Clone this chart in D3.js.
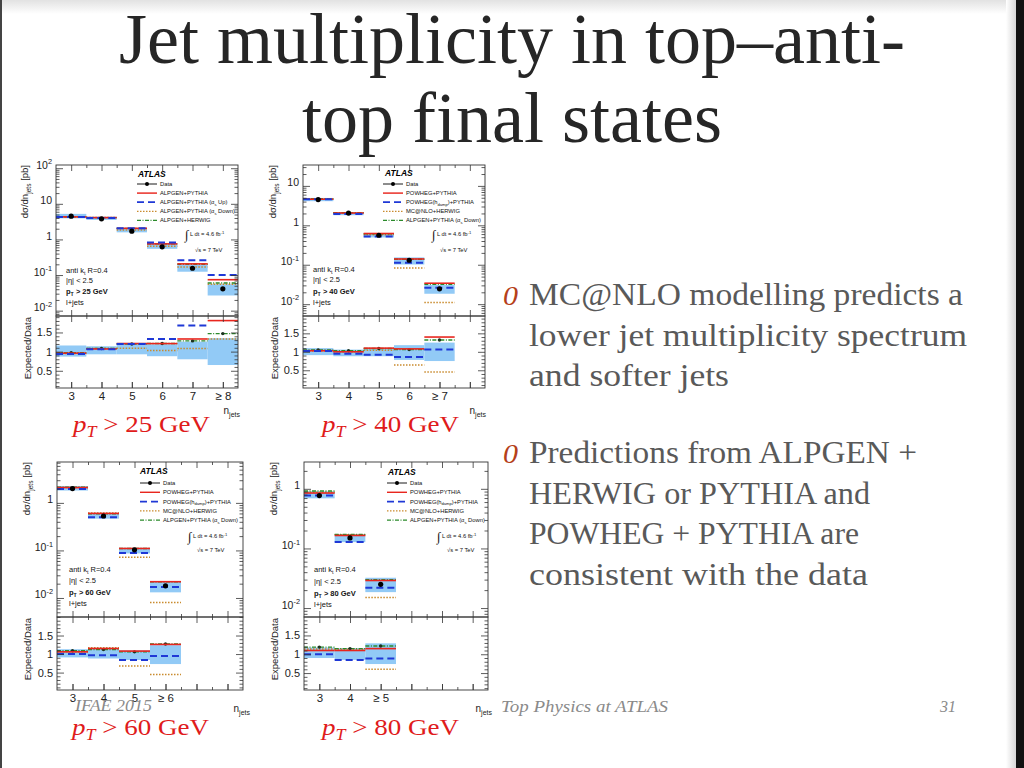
<!DOCTYPE html>
<html><head><meta charset="utf-8">
<script src="https://cdn.jsdelivr.net/npm/d3@7"></script>
<style>body{margin:0;background:#fff}svg{display:block}</style>
</head><body>
<svg id="c" width="1024" height="768"></svg>
<script>
// ---------- DATA ----------
// pT > 25 GeV
const cats25 = ["3","4","5","6","7","\u2265 8"];
const data25 = [4.5, 3.8, 1.7, 0.62, 0.155, 0.041];
const bandLo25 = [0.87, 0.93, 0.93, 0.88, 0.80, 0.65];
const bandHi25 = [1.16, 1.14, 1.23, 1.19, 1.26, 1.35];
const red25 = [4.3, 4.1, 2.05, 0.75, 0.206, 0.074];
const blue25 = [4.25, 4.0, 2.05, 0.82, 0.26, 0.10];
const orange25 = [4.3, 4.1, 1.85, 0.64, 0.168, 0.055];
const green25 = [4.35, 4.1, 2.04, 0.75, 0.20, 0.060];
const rRed25 = [0.96, 1.07, 1.21, 1.21, 1.33, 1.81];
const rBlue25 = [0.94, 1.06, 1.20, 1.33, 1.68, null];
const rOrange25 = [0.95, 1.08, 1.09, 1.03, 1.08, 1.33];
const rGreen25 = [0.97, 1.08, 1.20, 1.21, 1.28, 1.47];
const names25 = ["Data","ALPGEN+PYTHIA","ALPGEN+PYTHIA (\u03b1_{s} Up)","ALPGEN+PYTHIA (\u03b1_{s} Down)","ALPGEN+HERWIG"];

// pT > 40 GeV
const cats40 = ["3","4","5","6","\u2265 7"];
const data40 = [4.5, 2.05, 0.56, 0.13, 0.0245];
const bandLo40 = [0.91, 0.88, 0.88, 0.78, 0.75];
const bandHi40 = [1.10, 1.06, 1.10, 1.18, 1.25];
const red40 = [4.6, 2.05, 0.62, 0.14, 0.034];
const blue40 = [4.6, 1.95, 0.52, 0.112, 0.026];
const orange40 = [4.6, 2.05, 0.58, 0.083, 0.011];
const green40 = [4.7, 2.1, 0.61, 0.138, 0.032];
const rRed40 = [1.03, 1.00, 1.10, 1.08, 1.40];
const rBlue40 = [1.02, 0.95, 0.92, 0.86, 1.06];
const rOrange40 = [1.02, 1.00, 1.04, 0.64, 0.45];
const rGreen40 = [1.05, 1.03, 1.09, 1.06, 1.32];

// pT > 60 GeV
const cats60 = ["3","4","5","\u2265 6"];
const data60 = [2.0, 0.53, 0.103, 0.018];
const bandLo60 = [0.91, 0.88, 0.84, 0.73];
const bandHi60 = [1.13, 1.17, 1.10, 1.24];
const red60 = [2.1, 0.60, 0.11, 0.022];
const blue60 = [1.95, 0.50, 0.088, 0.017];
const orange60 = [2.1, 0.61, 0.072, 0.008];
const green60 = [2.15, 0.59, 0.11, 0.022];
const rRed60 = [1.06, 1.15, 1.08, 1.26];
const rBlue60 = [1.00, 0.97, 0.84, 0.95];
const rOrange60 = [1.06, 1.17, 0.68, 0.45];
const rGreen60 = [1.09, 1.12, 1.06, 1.27];

// pT > 80 GeV
const cats80 = ["3","4","\u2265 5"];
const data80 = [0.77, 0.15, 0.025];
const bandLo80 = [0.90, 0.85, 0.74];
const bandHi80 = [1.18, 1.16, 1.29];
const red80 = [0.85, 0.165, 0.029];
const blue80 = [0.77, 0.128, 0.022];
const orange80 = [0.88, 0.17, 0.015];
const green80 = [0.92, 0.172, 0.030];
const rRed80 = [1.10, 1.10, 1.15];
const rBlue80 = [1.00, 0.85, 0.89];
const rOrange80 = [1.14, 1.13, 0.60];
const rGreen80 = [1.19, 1.15, 1.22];

const namesPow = ["Data","POWHEG+PYTHIA","POWHEG(h_{damp})+PYTHIA","MC@NLO+HERWIG","ALPGEN+PYTHIA (\u03b1_{s} Down)"];
const ptCuts = ["25","40","60","80"];

const titleLines = ["Jet multiplicity in top\u2013anti-", "top final states"];
const bullet1 = ["MC@NLO modelling predicts a", "lower jet multiplicity spectrum", "and softer jets"];
const bullet2 = ["Predictions from ALPGEN +", "HERWIG or PYTHIA and", "POWHEG + PYTHIA are", "consistent with the data"];

// ---------- STYLE ----------
const SANS = "'Liberation Sans', Arial, Helvetica, sans-serif";
const SERIF = "'Liberation Serif', 'Times New Roman', serif";
const BAND = "#92caf6";
const STY = [
  {c:"#e8261e", w:1.6, d:null},
  {c:"#1f38d6", w:2.0, d:"7,4"},
  {c:"#c98b2e", w:1.5, d:"1.5,1.5"},
  {c:"#2b8a2b", w:1.4, d:"4,1.5,1,1.5"}
];

const svg = d3.select("#c");
const defs = svg.append("defs");

function rich(text, str, size) {
  const parts = str.split(/(_\{[^}]*\}|\^\{[^}]*\})/).filter(s => s.length);
  let shift = 0;
  parts.forEach(p => {
    let target = 0, content = p, s = size;
    if (p.startsWith("_{")) { target = 0.3*size; content = p.slice(2,-1); s = size*0.7; }
    else if (p.startsWith("^{")) { target = -0.42*size; content = p.slice(2,-1); s = size*0.7; }
    text.append("tspan").attr("dy", target - shift).attr("font-size", s).text(content);
    shift = target;
  });
  return text;
}

// ---------- SLIDE BACKGROUND ----------
const tg = defs.append("linearGradient").attr("id","tg").attr("x1",0).attr("y1",0).attr("x2",0).attr("y2",1);
tg.append("stop").attr("offset",0).attr("stop-color","#e2e2e2");
tg.append("stop").attr("offset",1).attr("stop-color","#ffffff");
const rg = defs.append("linearGradient").attr("id","rg");
rg.append("stop").attr("offset",0).attr("stop-color","#ffffff");
rg.append("stop").attr("offset",1).attr("stop-color","#d6d6d6");
svg.append("rect").attr("width",1024).attr("height",768).attr("fill","#fff");
svg.append("rect").attr("width",1016).attr("height",14).attr("fill","url(#tg)");
svg.append("rect").attr("x",1006).attr("width",10).attr("height",768).attr("fill","url(#rg)");
svg.append("rect").attr("x",1016).attr("width",8).attr("height",768).attr("fill","#111");
svg.append("rect").attr("x",0).attr("width",2).attr("height",768).attr("fill","#444");

// ---------- TITLE ----------
svg.selectAll("text.title").data(titleLines).join("text")
  .attr("x", 512).attr("y", (d,i) => i === 0 ? 63 : 142)
  .attr("text-anchor","middle").attr("font-family", SERIF).attr("font-size", 72)
  .attr("fill","#262626").text(d => d);

// ---------- BULLETS ----------
const bodyW1 = [434, 438, 200];
const bodyW2 = [388, 341, 330, 339];
function bullets(lines, widths, y0) {
  svg.append("text").attr("x", 503).attr("y", y0).attr("font-family", SERIF)
    .attr("font-style","italic").attr("font-size", 27).attr("fill","#b5401a")
    .attr("textLength", 15).attr("lengthAdjust","spacingAndGlyphs").text("0");
  lines.forEach((l, i) => {
    svg.append("text").attr("x", 529).attr("y", y0 + i*40.5)
      .attr("font-family", SERIF).attr("font-size", 31).attr("fill","#595959")
      .attr("textLength", widths[i]).attr("lengthAdjust","spacingAndGlyphs").text(l);
  });
}
bullets(bullet1, bodyW1, 305);
bullets(bullet2, bodyW2, 463);

// ---------- PANELS ----------
const panels = [
  {cats:cats25, data:data25, lo:bandLo25, hi:bandHi25, up:[red25,blue25,orange25,green25],
   rat:[rRed25,rBlue25,rOrange25,rGreen25], names:names25, cut:ptCuts[0],
   x0:56, x1:238, top:165, mid:316, bot:388, yd:[Math.pow(10,-2.15), Math.pow(10,2.09)], rd:[0.05,1.93],
   atlas:[138,177], leg:[137,184,9.1], lumi:[185,236], sqrt:[195,252], info:[66,[273,283,294,305]],
   yt:28, rt:31, nj:[240,414], pt:[73,432]},
  {cats:cats40, data:data40, lo:bandLo40, hi:bandHi40, up:[red40,blue40,orange40,green40],
   rat:[rRed40,rBlue40,rOrange40,rGreen40], names:namesPow, cut:ptCuts[1],
   x0:303, x1:485, top:165, mid:316, bot:388, yd:[Math.pow(10,-2.3), Math.pow(10,1.53)], rd:[0.02,1.97],
   atlas:[385,176], leg:[383,184,9.1], lumi:[432,236], sqrt:[440,252], info:[313,[272,282,294,305]],
   yt:276, rt:278, nj:[486,414], pt:[322,432]},
  {cats:cats60, data:data60, lo:bandLo60, hi:bandHi60, up:[red60,blue60,orange60,green60],
   rat:[rRed60,rBlue60,rOrange60,rGreen60], names:namesPow, cut:ptCuts[2],
   x0:57, x1:243, top:462, mid:617, bot:690, yd:[Math.pow(10,-2.4), Math.pow(10,0.86)], rd:[0.03,2.0],
   atlas:[140,474], leg:[140,483,9.3], lumi:[188,538], sqrt:[197,552], info:[69,[572,583,595,606]],
   yt:30, rt:31, nj:[250,712], pt:[72,735]},
  {cats:cats80, data:data80, lo:bandLo80, hi:bandHi80, up:[red80,blue80,orange80,green80],
   rat:[rRed80,rBlue80,rOrange80,rGreen80], names:namesPow, cut:ptCuts[3],
   x0:304, x1:488, top:462, mid:617, bot:690, yd:[Math.pow(10,-2.15), Math.pow(10,0.45)], rd:[0.05,1.99],
   atlas:[388,475], leg:[387,483,9.3], lumi:[437,538], sqrt:[447,552], info:[314,[572,584,596,607]],
   yt:277, rt:278, nj:[492,712], pt:[322,735]}
];

function styleAxis(g, fs) {
  g.select(".domain").remove();
  g.selectAll(".tick line").attr("stroke","#333").attr("stroke-width",0.8);
  g.selectAll(".tick text").attr("font-family", SANS).attr("font-size", fs).attr("fill","#222");
}

function lineStyle(sel, s) {
  sel.attr("stroke", s.c).attr("stroke-width", s.w).attr("fill","none");
  if (s.d) sel.attr("stroke-dasharray", s.d);
}

panels.forEach((p, k) => {
  const g = svg.append("g");
  const x = d3.scaleLinear().domain([2.5, 8.5]).range([p.x0, p.x1]);
  const y = d3.scaleLog().domain(p.yd).range([p.mid, p.top]);
  const r = d3.scaleLinear().domain(p.rd).range([p.bot, p.mid]);
  const idx = p.cats.map((c, i) => i);

  defs.append("clipPath").attr("id","cu"+k).append("rect")
    .attr("x",p.x0).attr("y",p.top).attr("width",p.x1-p.x0).attr("height",p.mid-p.top);
  defs.append("clipPath").attr("id","cl"+k).append("rect")
    .attr("x",p.x0).attr("y",p.mid).attr("width",p.x1-p.x0).attr("height",p.bot-p.mid);
  const gu = g.append("g").attr("clip-path","url(#cu"+k+")");
  const gl = g.append("g").attr("clip-path","url(#cl"+k+")");

  // uncertainty bands
  gu.selectAll("rect").data(idx).join("rect")
    .attr("x", i => x(2.5+i)).attr("width", i => x(3.5+i) - x(2.5+i))
    .attr("y", i => y(p.data[i]*p.hi[i])).attr("height", i => y(p.data[i]*p.lo[i]) - y(p.data[i]*p.hi[i]))
    .attr("fill", BAND);
  gl.selectAll("rect").data(idx).join("rect")
    .attr("x", i => x(2.5+i)).attr("width", i => x(3.5+i) - x(2.5+i))
    .attr("y", i => r(p.hi[i])).attr("height", i => r(p.lo[i]) - r(p.hi[i]))
    .attr("fill", BAND);

  // predictions
  [2,3,0,1].forEach(s => {
    const uv = p.up[s].map((v,i) => ({v,i})).filter(d => d.v != null);
    lineStyle(gu.append("g").selectAll("line").data(uv).join("line")
      .attr("x1", d => x(2.5+d.i)).attr("x2", d => x(3.5+d.i))
      .attr("y1", d => y(d.v)).attr("y2", d => y(d.v)), STY[s]);
    const rv = p.rat[s].map((v,i) => ({v,i})).filter(d => d.v != null);
    lineStyle(gl.append("g").selectAll("line").data(rv).join("line")
      .attr("x1", d => x(2.5+d.i)).attr("x2", d => x(3.5+d.i))
      .attr("y1", d => r(d.v)).attr("y2", d => r(d.v)), STY[s]);
    if (s === 3) {
      gl.append("g").selectAll("circle").data(rv).join("circle")
        .attr("cx", d => x(3+d.i)).attr("cy", d => r(d.v)).attr("r", 1.7).attr("fill","#1d3320");
    }
  });

  // data
  gu.append("g").selectAll("circle").data(idx).join("circle")
    .attr("cx", i => x(3+i)).attr("cy", i => y(p.data[i])).attr("r", 2.6).attr("fill","#000");

  // frames
  g.append("rect").attr("x",p.x0).attr("y",p.top).attr("width",p.x1-p.x0).attr("height",p.mid-p.top)
    .attr("fill","none").attr("stroke","#333").attr("stroke-width",0.9);
  g.append("rect").attr("x",p.x0).attr("y",p.mid).attr("width",p.x1-p.x0).attr("height",p.bot-p.mid)
    .attr("fill","none").attr("stroke","#333").attr("stroke-width",0.9);

  // upper y axis
  const decades = d3.range(-3, 4).map(e => Math.pow(10, e)).filter(v => v >= p.yd[0] && v <= p.yd[1]*1.0001);
  const minors = [];
  d3.range(-3, 3).forEach(e => d3.range(2, 10).forEach(m => {
    const v = m*Math.pow(10, e); if (v > p.yd[0] && v < p.yd[1]) minors.push(v);
  }));
  const fmt = v => { const e = Math.round(Math.log10(v)); return e === 0 ? "1" : e === 1 ? "10" : "10^{" + e + "}"; };
  const ay = g.append("g").attr("transform",`translate(${p.x0},0)`)
    .call(d3.axisLeft(y).tickValues(decades).tickSize(-7).tickPadding(4).tickFormat(() => ""));
  styleAxis(ay, 10.5);
  ay.selectAll(".tick text").each(function(d) { rich(d3.select(this), fmt(d), 10.5); });
  styleAxis(g.append("g").attr("transform",`translate(${p.x0},0)`)
    .call(d3.axisLeft(y).tickValues(minors).tickSize(-3.5).tickFormat(() => "")), 10);
  styleAxis(g.append("g").attr("transform",`translate(${p.x1},0)`)
    .call(d3.axisRight(y).tickValues(decades).tickSize(-7).tickFormat(() => "")), 10);
  styleAxis(g.append("g").attr("transform",`translate(${p.x1},0)`)
    .call(d3.axisRight(y).tickValues(minors).tickSize(-3.5).tickFormat(() => "")), 10);

  // ratio y axis
  const rMinor = d3.range(1, 20).map(v => v/10).filter(v => v > p.rd[0] && v < p.rd[1] && Math.abs(v*2 - Math.round(v*2)) > 1e-6);
  styleAxis(g.append("g").attr("transform",`translate(${p.x0},0)`)
    .call(d3.axisLeft(r).tickValues([0.5,1,1.5]).tickSize(-7).tickPadding(4).tickFormat(d => String(d))), 11);
  styleAxis(g.append("g").attr("transform",`translate(${p.x0},0)`)
    .call(d3.axisLeft(r).tickValues(rMinor).tickSize(-3.5).tickFormat(() => "")), 10);
  styleAxis(g.append("g").attr("transform",`translate(${p.x1},0)`)
    .call(d3.axisRight(r).tickValues([0.5,1,1.5]).tickSize(-7).tickFormat(() => "")), 10);
  styleAxis(g.append("g").attr("transform",`translate(${p.x1},0)`)
    .call(d3.axisRight(r).tickValues(rMinor).tickSize(-3.5).tickFormat(() => "")), 10);

  // x axes
  const centers = d3.range(3, 9);
  const edges = d3.range(3.5, 8.5, 1);
  styleAxis(g.append("g").attr("transform",`translate(0,${p.bot})`)
    .call(d3.axisBottom(x).tickValues(centers).tickSize(-6).tickPadding(4)
      .tickFormat(d => p.cats[d-3] || "")), 11.5);
  [[p.bot, "b"], [p.mid, "b"], [p.mid, "t"], [p.top, "t"]].forEach(([yy, side]) => {
    const ax = side === "b" ? d3.axisBottom(x) : d3.axisTop(x);
    styleAxis(g.append("g").attr("transform",`translate(0,${yy})`)
      .call(ax.tickValues(centers).tickSize(-6).tickFormat(() => "")), 10);
    styleAxis(g.append("g").attr("transform",`translate(0,${yy})`)
      .call((side === "b" ? d3.axisBottom(x) : d3.axisTop(x)).tickValues(edges).tickSize(-3).tickFormat(() => "")), 10);
  });

  // axis titles
  rich(g.append("text").attr("transform",`translate(${p.yt},${p.top}) rotate(-90)`)
    .attr("text-anchor","end").attr("font-family",SANS).attr("font-size",9.5).attr("fill","#222"),
    "d\u03c3/dn_{jets} [pb]", 9.5);
  g.append("text").attr("transform",`translate(${p.rt},${p.mid+1}) rotate(-90)`)
    .attr("text-anchor","end").attr("font-family",SANS).attr("font-size",9.5).attr("fill","#222")
    .text("Expected/Data");
  rich(g.append("text").attr("x",p.nj[0]).attr("y",p.nj[1]).attr("text-anchor","end")
    .attr("font-family",SANS).attr("font-size",10).attr("fill","#222"), "n_{jets}", 10);

  // legend
  g.append("text").attr("x",p.atlas[0]).attr("y",p.atlas[1]).attr("font-family",SANS)
    .attr("font-size",8.5).attr("font-weight","bold").attr("font-style","italic").attr("fill","#000").text("ATLAS");
  p.names.forEach((nm, i) => {
    const ly = p.leg[1] + i*p.leg[2];
    const ln = g.append("line").attr("x1",p.leg[0]).attr("x2",p.leg[0]+20).attr("y1",ly).attr("y2",ly);
    if (i === 0) {
      ln.attr("stroke","#000").attr("stroke-width",0.9);
      g.append("circle").attr("cx",p.leg[0]+10).attr("cy",ly).attr("r",2).attr("fill","#000");
    } else lineStyle(ln, Object.assign({}, STY[i-1], {w: STY[i-1].w*0.9}));
    rich(g.append("text").attr("x",p.leg[0]+23).attr("y",ly+2).attr("font-family",SANS)
      .attr("font-size",5.8).attr("fill","#111"), nm, 5.8);
  });
  g.append("text").attr("x",p.lumi[0]).attr("y",p.lumi[1]+3).attr("font-family",SERIF)
    .attr("font-size",13).attr("fill","#111").text("\u222b");
  rich(g.append("text").attr("x",p.lumi[0]+5).attr("y",p.lumi[1]).attr("font-family",SANS)
    .attr("font-size",5.8).attr("fill","#111"), "L dt = 4.6 fb^{-1}", 5.8);
  g.append("text").attr("x",p.sqrt[0]).attr("y",p.sqrt[1]).attr("font-family",SANS)
    .attr("font-size",5.8).attr("fill","#111").text("\u221as = 7 TeV");

  // info
  const info = ["anti k_{t} R=0.4", "|\u03b7| < 2.5", "p_{T} > " + p.cut + " GeV", "l+jets"];
  info.forEach((t, i) => {
    const tx = g.append("text").attr("x",p.info[0]).attr("y",p.info[1][i]).attr("font-family",SANS)
      .attr("font-size",7.5).attr("fill","#111");
    if (i === 2) tx.attr("font-weight","bold");
    rich(tx, t, 7.5);
  });

  // red pT label
  const pt = svg.append("text").attr("x",p.pt[0]).attr("y",p.pt[1]).attr("font-family",SERIF)
    .attr("fill","#e01b1b").attr("font-size",24).attr("textLength",137).attr("lengthAdjust","spacingAndGlyphs");
  pt.append("tspan").attr("font-style","italic").text("p");
  pt.append("tspan").attr("font-style","italic").attr("font-size",16).attr("dy",5).text("T");
  pt.append("tspan").attr("dy",-5).text(" > " + p.cut + " GeV");
});

// ---------- FOOTER ----------
svg.append("text").attr("x",75).attr("y",711).attr("font-family",SERIF).attr("font-style","italic")
  .attr("font-size",17).attr("fill","#8a8a8a").attr("textLength",77).attr("lengthAdjust","spacingAndGlyphs").text("IFAE 2015");
svg.append("text").attr("x",501).attr("y",712).attr("font-family",SERIF).attr("font-style","italic")
  .attr("font-size",17).attr("fill","#8a8a8a").attr("textLength",167).attr("lengthAdjust","spacingAndGlyphs").text("Top Physics at ATLAS");
svg.append("text").attr("x",940).attr("y",712).attr("font-family",SERIF).attr("font-style","italic")
  .attr("font-size",16).attr("fill","#8a8a8a").text("31");
</script>
</body></html>
